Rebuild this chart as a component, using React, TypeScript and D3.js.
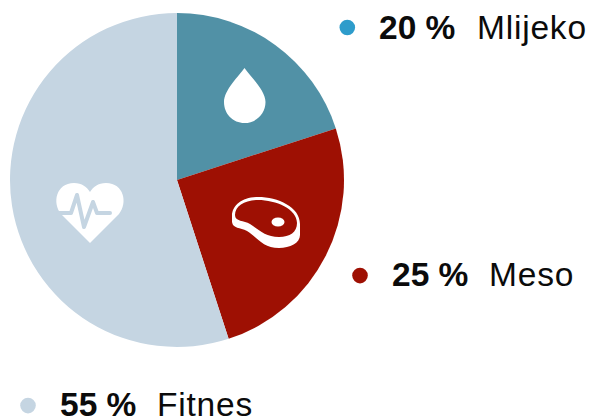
import React from "react";
import * as d3 from "d3";

const categories = ["Mlijeko", "Meso", "Fitnes"];
const shares = [20, 25, 55];
const sliceColors = ["#5191a6", "#9e1003", "#c5d5e2"];
const dotColors = ["#2e9ccb", "#9e1003", "#c5d5e2"];
const legendDot = [[347.3, 27.5], [360, 275.6], [28, 405.6]];
const legendPct = [[379, 38.5], [392, 286], [60, 416]];
const legendName = [[477, 38.5], [489, 286], [157, 416]];

const FONT = "'Liberation Sans', Arial, sans-serif";
const CX = 177, CY = 180, R = 167;

const DROP = "M244.5 68 C250 76 265.5 90 265.5 102 C265.5 114 256 123 244.5 123 C233 123 224 114 224 102 C224 90 239 76 244.5 68 Z";
const MEAT_OUTER = "M232 216 C232 205 243 197 258 197 C278 197 300 207 300 224 L300 235 C300 243 290 248 279 248 C262 248 256 236 247 231 C240 227 233 229 232 222 Z";
const MEAT_INNER = "M235 215 C235 206 245 200 258 200 C276 200 297 209 297 223 C297 232 290 237 279 237 C265 237 258 229 250 224 C244 220 235 222 235 215 Z";
const HEART = "M90 243 L61 214 C52 203 56 183 74 183 C82 183 87 187 90 192 C93 187 98 183 106 183 C124 183 128 203 119 214 Z";
const PULSE_X = [58, 71, 77, 84, 93, 97, 110];
const PULSE_Y = [213, 213, 195, 227, 202, 213, 213];

export default function App() {
  const pie = d3.pie<number>().sort(null).value((d) => d);
  const arc = d3.arc<d3.PieArcDatum<number>>().innerRadius(0).outerRadius(R);
  const arcs = pie(shares);
  const pulse = d3.line<number>().x((d) => d).y((_, i) => PULSE_Y[i]).curve(d3.curveLinear)(PULSE_X) || "";
  return (
    <svg width={594} height={418} style={{ position: "absolute", left: 0, top: 0, background: "#fff" }}>
      <g transform={`translate(${CX},${CY})`}>
        {arcs.map((a, i) => (
          <path key={categories[i]} d={arc(a) || ""} fill={sliceColors[i]} />
        ))}
      </g>
      <path d={DROP} fill="#fff" />
      <path d={MEAT_OUTER} fill="#fff" />
      <path d={MEAT_INNER} fill={sliceColors[1]} />
      <ellipse cx={278} cy={222} rx={6.5} ry={4.6} fill="#fff" />
      <path d={HEART} fill="#fff" />
      <path d={pulse} fill="none" stroke={sliceColors[2]} strokeWidth={4} strokeLinecap="round" strokeLinejoin="round" />
      {categories.map((c, i) => (
        <g key={c} fontFamily={FONT} fontSize={33.5} fill="#0b0b0b">
          <circle cx={legendDot[i][0]} cy={legendDot[i][1]} r={7.8} fill={dotColors[i]} />
          <text x={legendPct[i][0]} y={legendPct[i][1]} fontWeight={700}>{shares[i]} %</text>
          <text x={legendName[i][0]} y={legendName[i][1]} letterSpacing={0.8}>{c}</text>
        </g>
      ))}
    </svg>
  );
}
